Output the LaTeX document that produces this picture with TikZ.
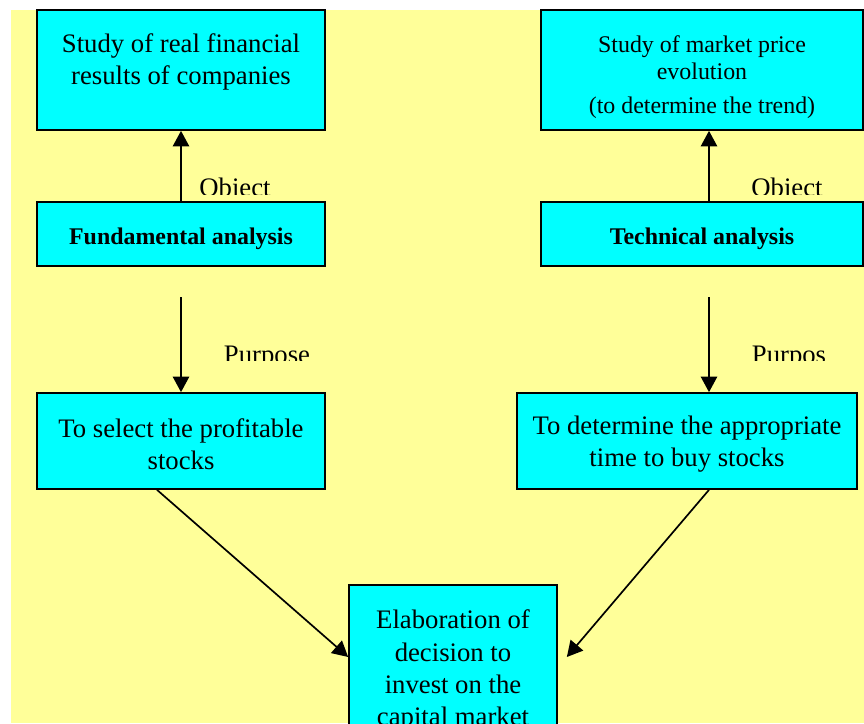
\documentclass[tikz,border=0pt]{standalone}
\usepackage{fontspec}
\setmainfont{Liberation Serif}
\usetikzlibrary{arrows.meta, positioning, calc}
\definecolor{bgyellow}{RGB}{255,255,153}
\definecolor{boxcyan}{RGB}{0,255,255}

\begin{document}
\begin{tikzpicture}[
  box/.style={rectangle, draw=black, line width=1.2pt, fill=boxcyan, align=center, inner sep=2pt},
  bigbox/.style={box, font=\fontsize{19}{23}\selectfont},
  smallbox/.style={box, font=\fontsize{17}{19.2}\selectfont},
  tag/.style={font=\fontsize{19}{23}\selectfont, anchor=base, inner sep=0pt},
  arr/.style={-{Triangle[length=3.9mm, width=4.1mm]}, line width=1.2pt},
]

\useasboundingbox (0,0) rectangle (21.6,-18.075);
\fill[bgyellow] (0.275,-0.25) rectangle (21.6,-18.075);

% ---- Left column: fundamental analysis ----
\node[bigbox, minimum width=7.2cm, minimum height=3cm] (objF) at (4.525,-1.75)
  {Study of real financial\\results of companies\\[-2.5mm]\mbox{}};
\node[smallbox, minimum width=7.2cm, minimum height=1.6cm] (fund) at (4.525,-5.85)
  {\rule{0pt}{18.6pt}\textbf{Fundamental analysis}};
\node[bigbox, minimum width=7.2cm, minimum height=2.4cm] (selF) at (4.525,-11.025)
  {\rule{0pt}{17.5pt}To select the profitable\\stocks};

% ---- Right column: technical analysis ----
\node[smallbox, minimum width=8.05cm, minimum height=3cm] (objT) at (17.55,-1.75)
  {\rule{0pt}{22pt}Study of market price\\evolution\\[1.75mm](to determine the trend)};
\node[smallbox, minimum width=8.05cm, minimum height=1.6cm] (tech) at (17.55,-5.85)
  {\rule{0pt}{18.6pt}\textbf{Technical analysis}};
\node[bigbox, minimum width=8.5cm, minimum height=2.4cm] (timeT) at (17.175,-11.025)
  {\rule{0pt}{17.5pt}To determine the appropriate\\time to buy stocks};

% ---- Bottom: decision ----
\node[bigbox, minimum width=5.2cm, minimum height=4.05cm] (dec) at (11.325,-16.65)
  {\rule{0pt}{20.2pt}Elaboration of\\decision to\\invest on the\\capital market};

% ---- Labels (cut off at the bottom) ----
\begin{scope}
  \clip (0,-3.25) rectangle (21.6,-4.85) (0,-7.4) rectangle (21.6,-9.0);
  \node[tag] (objLblF) at (5.875,-4.9) {Obiect};
  \node[tag] (objLblT) at (19.675,-4.9) {Obiect};
  \node[tag] (purLblF) at (6.675,-9.075) {Purpose};
  \node[tag] (purLblT) at (19.725,-9.075) {Purpos};
\end{scope}

% ---- Arrows ----
\coordinate (pL) at (4.525,-7.425);
\coordinate (pR) at (17.725,-7.425);
\draw[arr] (fund.north) -- (objF.south);
\draw[arr] ([xshift=1.75mm]tech.north) -- ([xshift=1.75mm]objT.south);
\draw[arr] (pL) -- (selF.north);
\draw[arr] (pR) -- (pR |- timeT.north);
\draw[arr] ([xshift=-6mm]selF.south) -- ([yshift=2.25mm]dec.west);
\draw[arr] ([xshift=5.5mm]timeT.south) -- ([xshift=2.25mm,yshift=2.25mm]dec.east);

\end{tikzpicture}
\end{document}
